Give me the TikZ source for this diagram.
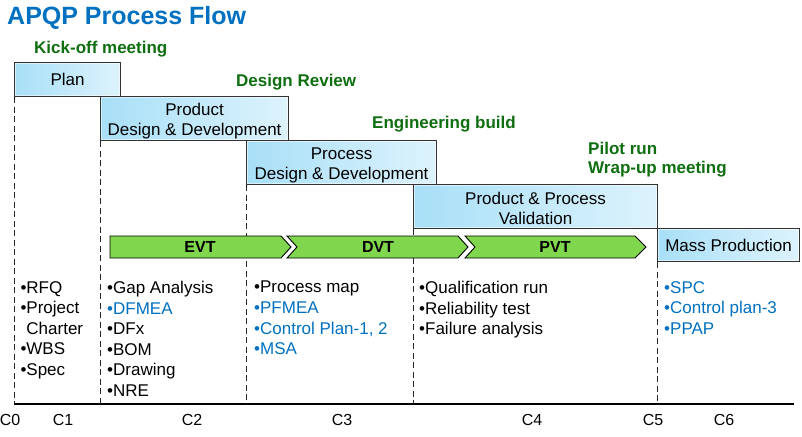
\documentclass[tikz,border=0pt]{standalone}
\usepackage{fontspec}
\setmainfont{Liberation Sans}
\usetikzlibrary{calc}
\definecolor{apblue}{HTML}{0070C0}
\definecolor{apgreen}{HTML}{0F6E0F}
\definecolor{boxL}{HTML}{A8DFF7}
\definecolor{boxR}{HTML}{DDF3FC}
\definecolor{arrowgreen}{HTML}{80D64C}
\newcommand{\fsz}[2]{\fontsize{#1}{#2}\selectfont}
\begin{document}
\begin{tikzpicture}[x=1pt,y=-1pt,
  box/.style={draw=black!80, line width=1.1pt, left color=boxL, right color=boxR,
    inner sep=0pt, anchor=north west},
  boxtxt/.style={font=\fsz{17}{20}, align=center, inner sep=0pt},
  mile/.style={anchor=base west, inner sep=0pt, text=apgreen, font=\fsz{17}{20}\bfseries},
  vdash/.style={draw=black!85, line width=0.8pt, dash pattern=on 6pt off 3.5pt},
  phasearrow/.style={fill=arrowgreen, draw=black, line width=0.9pt, line join=miter},
  phase/.style={font=\fsz{16}{19}\bfseries, inner sep=0pt},
  listtxt/.style={anchor=north west, inner sep=0pt, align=left, font=\fsz{17}{20.6}},
  axlbl/.style={font=\fsz{16}{19}, inner sep=0pt}]
\useasboundingbox (0,0) rectangle (802,436);

% title
\node[anchor=base west, inner sep=0pt, text=apblue, font=\fsz{25}{30}\bfseries] (title) at (7,25) {APQP Process Flow};

% milestones
\node[mile] (kick) at (34,53) {Kick-off meeting};
\node[mile] (dr) at (236,86) {Design Review};
\node[mile] (eb) at (372,128) {Engineering build};
\node[mile] (pr) at (588,154) {Pilot run};
\node[mile] (wu) at (588,173) {Wrap-up meeting};

% boxes
\node[box, minimum width=106pt, minimum height=34pt] (plan) at (14,62) {};
\node[box, minimum width=188pt, minimum height=44pt] (pdd) at (100,96) {};
\node[box, minimum width=190pt, minimum height=44pt] (prdd) at (246,140) {};
\node[box, minimum width=244pt, minimum height=44pt] (ppv) at (413,184) {};
\node[box, minimum width=142pt, minimum height=33pt] (mp) at (657,228) {};
\foreach \n in {plan,pdd,prdd,ppv,mp}
  \draw[white, opacity=0.55, line width=0.8pt] ([shift={(1.6,1.6)}]\n.north west) rectangle ([shift={(-1.6,-1.6)}]\n.south east);
\node[boxtxt] (plant) at (plan.center) {Plan};
\node[boxtxt, yshift=-2.5pt] (pddt) at (pdd.center) {Product\\Design \& Development};
\node[boxtxt, yshift=-2.5pt] (prddt) at (prdd.center) {Process\\Design \& Development};
\node[boxtxt, yshift=-1.5pt] (ppvt) at (ppv.center) {Product \& Process\\Validation};
\node[boxtxt] (mpt) at (mp.center) {Mass Production};

% axis
\coordinate (axL) at (14,404);
\coordinate (axR) at (794,404);
\draw[black, line width=1.1pt] (axL) -- (axR);

% dashed verticals
\draw[vdash] (plan.south west) -- (plan.south west |- axL);
\draw[vdash] (pdd.south west) -- (pdd.south west |- axL);
\draw[vdash] (prdd.south west) -- (prdd.south west |- axL);
\draw[vdash] (ppv.south west) -- (ppv.south west |- axL);
\draw[vdash] (mp.south west) -- (mp.south west |- axL);

% phase arrows
\draw[phasearrow] (110,236) -- (281,236) -- (291,247) -- (281,258) -- (110,258) -- cycle;
\draw[phasearrow] (287,236) -- (458,236) -- (468,247) -- (458,258) -- (287,258) -- (297,247) -- cycle;
\draw[phasearrow] (465,236) -- (635,236) -- (646,247) -- (635,258) -- (465,258) -- (475,247) -- cycle;
\node[phase] (evt) at (200,247) {EVT};
\node[phase] (dvt) at (378,247) {DVT};
\node[phase] (pvt) at (555,247) {PVT};

% lists
\node[listtxt] (col1) at (20.3,281) {•RFQ\\•Project\\\phantom{•}Charter\\•WBS\\•Spec};
\node[listtxt] (col2) at (107,281) {•Gap Analysis\\\textcolor{apblue}{•DFMEA}\\•DFx\\•BOM\\•Drawing\\•NRE};
\node[listtxt] (col3) at (254,281) {•Process map\\\textcolor{apblue}{•PFMEA}\\\textcolor{apblue}{•Control Plan-1, 2}\\\textcolor{apblue}{•MSA}};
\node[listtxt] (col4) at (419,281) {•Qualification run\\•Reliability test\\•Failure analysis};
\node[listtxt, text=apblue] (col5) at (664,281) {•SPC\\•Control plan-3\\•PPAP};

% axis labels
\node[axlbl] (c0) at (10,420) {C0};
\node[axlbl] (c1) at (63,420) {C1};
\node[axlbl] (c2) at (192,420) {C2};
\node[axlbl] (c3) at (342,420) {C3};
\node[axlbl] (c4) at (532,420) {C4};
\node[axlbl] (c5) at (653,420) {C5};
\node[axlbl] (c6) at (724,420) {C6};
\end{tikzpicture}
\end{document}
